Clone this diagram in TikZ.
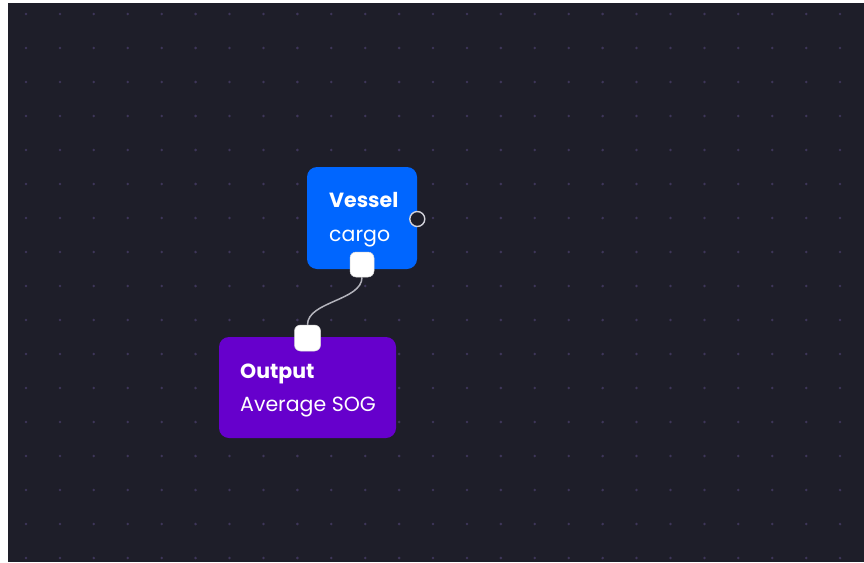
\documentclass[tikz,border=0pt]{standalone}
\usepackage{fontspec}
\setmainfont{Poppins}
\definecolor{canvas}{HTML}{1E1E29}
\definecolor{griddot}{HTML}{3E3659}
\definecolor{vesselblue}{HTML}{0066FF}
\definecolor{outpurple}{HTML}{6600CC}
\definecolor{wire}{HTML}{B4B4BC}
\definecolor{ring}{HTML}{D2D2DA}
\tikzset{
  card/.style={rounded corners=10pt, inner sep=0pt, draw=none},
  handle/.style={rectangle, rounded corners=6pt, fill=white, draw=white!85!black,
    line width=0.5pt, inner sep=0pt},
  title/.style={anchor=base west, inner sep=0pt, text=white, font=\fontsize{20.5}{24}\selectfont\bfseries},
  subtitle/.style={anchor=base west, inner sep=0pt, text=white, font=\fontsize{20.5}{24}\selectfont},
  port/.style={circle, minimum size=15pt, inner sep=0pt, fill=canvas, draw=ring, line width=1.4pt},
  edgewire/.style={draw=wire, line width=1.5pt}
}
\begin{document}
\begin{tikzpicture}[x=1pt,y=-1pt]
  \useasboundingbox (0,0) rectangle (864,562);
  % page margin and canvas
  \fill[white] (0,0) rectangle (864,562);
  \fill[canvas] (8,3) rectangle (864,562);
  % dotted background grid
  \foreach \i in {0,...,24} {
    \foreach \j in {0,...,16} {
      \fill[griddot] ({26+33.92*\i},{14+34*\j}) circle (1.4pt);
    }
  }
  % Vessel node
  \node[card, fill=vesselblue, minimum width=110pt, minimum height=102pt] (vessel) at (362,218) {};
  \node[title] (vtitle) at (329,207.7) {Vessel};
  \node[subtitle] (vsub) at (329,241.7) {cargo};
  \node[port] (vport) at (417.3,219) {};
  \node[handle, minimum width=24pt, minimum height=25pt] (vhandle) at (362,264.5) {};
  % Output node
  \node[card, fill=outpurple, minimum width=177pt, minimum height=101pt] (output) at (307.5,387.5) {};
  \node[title] (otitle) at (240,378) {Output};
  \node[subtitle] (osub) at (240,411.7) {Average SOG};
  \node[handle, minimum width=26pt, minimum height=26pt] (ohandle) at (307.5,338) {};
  % connector between the handles
  \draw[edgewire] (vhandle.south) .. controls +(0,23.5) and +(0,-23.5) .. (ohandle.north);
\end{tikzpicture}
\end{document}
